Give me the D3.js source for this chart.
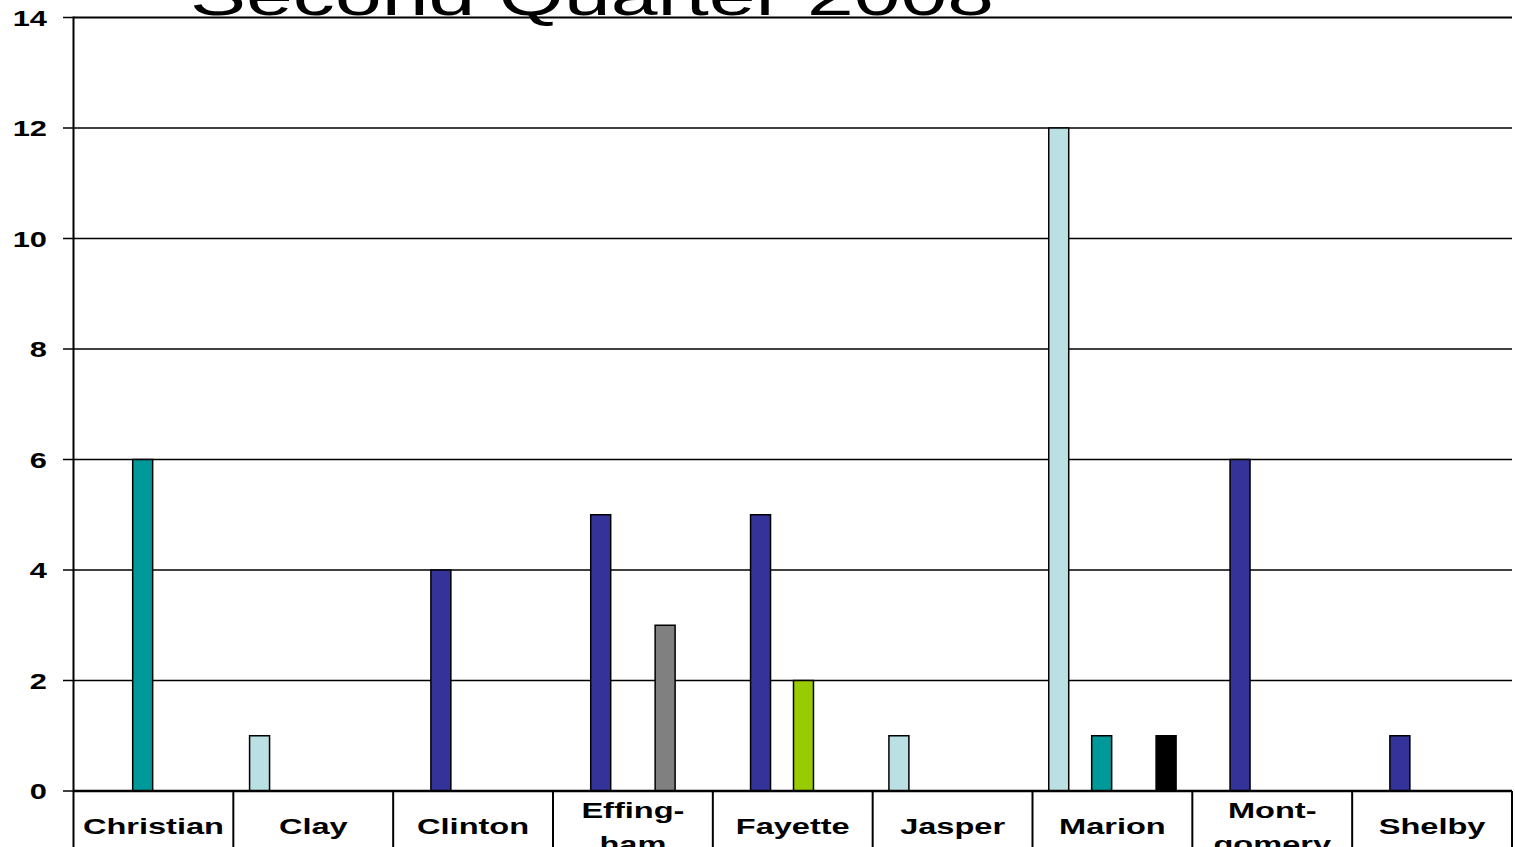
<!DOCTYPE html>
<html>
<head>
<meta charset="utf-8">
<script src="https://cdn.jsdelivr.net/npm/d3@7"></script>
<style>
  html, body { margin: 0; padding: 0; background: #fff; overflow: hidden; }
  svg { display: block; }
  text { font-family: "Liberation Sans", Arial, sans-serif; fill: #000; }
</style>
</head>
<body>
<svg id="chart" width="1515" height="847"></svg>
<script>
// ---- data ----
const title = "Second Quarter 2008";
const categories = ["Christian", "Clay", "Clinton", "Effingham", "Fayette", "Jasper", "Marion", "Montgomery", "Shelby"];
const categoryLabels = [["Christian"], ["Clay"], ["Clinton"], ["Effing-", "ham"], ["Fayette"], ["Jasper"], ["Marion"], ["Mont-", "gomery"], ["Shelby"]];
const seriesNames = ["Series 1", "Series 2", "Series 3", "Series 4", "Series 5", "Series 6"];
const seriesColors = ["#BBE0E3", "#333399", "#009999", "#99CC00", "#808080", "#000000"];
const series1 = [0, 1, 0, 0, 0, 1, 12, 0, 0];
const series2 = [0, 0, 4, 5, 5, 0, 0, 6, 1];
const series3 = [6, 0, 0, 0, 0, 0, 1, 0, 0];
const series4 = [0, 0, 0, 0, 2, 0, 0, 0, 0];
const series5 = [0, 0, 0, 3, 0, 0, 0, 0, 0];
const series6 = [0, 0, 0, 0, 0, 0, 1, 0, 0];
const yTicks = [0, 2, 4, 6, 8, 10, 12, 14];

const allSeries = [series1, series2, series3, series4, series5, series6];

// ---- layout ----
const svg = d3.select("#chart");
const pLeft = 73.5, pRight = 1512, pTop = 17.5, pBottom = 791;

const x = d3.scaleBand().domain(categories).range([pLeft, pRight]).paddingInner(0).paddingOuter(0);
const slotW = (x.bandwidth() - 31) / seriesNames.length;
const xs = d3.scaleBand().domain(seriesNames).range([15.5, 15.5 + slotW * seriesNames.length]).padding(0);

const y = d3.scaleLinear().domain([0, 14]).range([pBottom, pTop]);

// gridlines
svg.append("g").selectAll("line").data(yTicks.filter(d => d > 0)).join("line")
  .attr("x1", pLeft).attr("x2", pRight)
  .attr("y1", d => y(d)).attr("y2", d => y(d))
  .attr("stroke", "#000").attr("stroke-width", d => d === 14 ? 2 : 1.5);

// bars
const barData = [];
allSeries.forEach((vals, si) => {
  vals.forEach((v, ci) => {
    if (v > 0) barData.push({ cat: categories[ci], s: seriesNames[si], v, color: seriesColors[si] });
  });
});
svg.append("g").selectAll("rect").data(barData).join("rect")
  .attr("x", d => x(d.cat) + xs(d.s) + 0.75)
  .attr("width", xs.bandwidth() - 1.5)
  .attr("y", d => y(d.v))
  .attr("height", d => y(0) - y(d.v))
  .attr("fill", d => d.color)
  .attr("stroke", "#000").attr("stroke-width", 1.5);

// y axis
const yAxis = svg.append("g");
yAxis.append("line").attr("x1", pLeft).attr("x2", pLeft).attr("y1", pTop - 1).attr("y2", 847)
  .attr("stroke", "#000").attr("stroke-width", 2);
yAxis.selectAll("line.tick").data(yTicks).join("line").attr("class", "tick")
  .attr("x1", 63).attr("x2", pLeft).attr("y1", d => y(d)).attr("y2", d => y(d))
  .attr("stroke", "#000").attr("stroke-width", 1.5);
yAxis.selectAll("g.lbl").data(yTicks).join("g").attr("class", "lbl")
  .attr("transform", d => `translate(47,${y(d) + 8}) scale(1.4,1)`)
  .append("text").attr("text-anchor", "end")
  .attr("font-size", 22).attr("font-weight", "bold").text(d => d);

// x axis line and category boxes
svg.append("line").attr("x1", pLeft).attr("x2", pRight).attr("y1", pBottom).attr("y2", pBottom)
  .attr("stroke", "#000").attr("stroke-width", 2.5);
svg.append("g").selectAll("line").data(categories).join("line")
  .attr("x1", d => x(d) + x.bandwidth()).attr("x2", d => x(d) + x.bandwidth())
  .attr("y1", pBottom).attr("y2", 847)
  .attr("stroke", "#000").attr("stroke-width", 2);

// category labels
const lab = svg.append("g").selectAll("g").data(categories).join("g")
  .attr("transform", d => `translate(${x(d) + x.bandwidth() / 2},0)`);
lab.each(function (d, i) {
  const lines = categoryLabels[i];
  const g = d3.select(this);
  lines.forEach((t, j) => {
    const by = lines.length === 1 ? 834 : 818 + j * 34;
    g.append("g").attr("transform", `translate(0,${by}) scale(1.48,1)`)
      .append("text").attr("text-anchor", "middle")
      .attr("font-size", 22).attr("font-weight", "bold").text(t);
  });
});

// title
svg.append("g").attr("transform", "translate(592,15) scale(1.45,1)")
  .append("text").attr("text-anchor", "middle").attr("font-size", 58).text(title);
</script>
</body>
</html>
